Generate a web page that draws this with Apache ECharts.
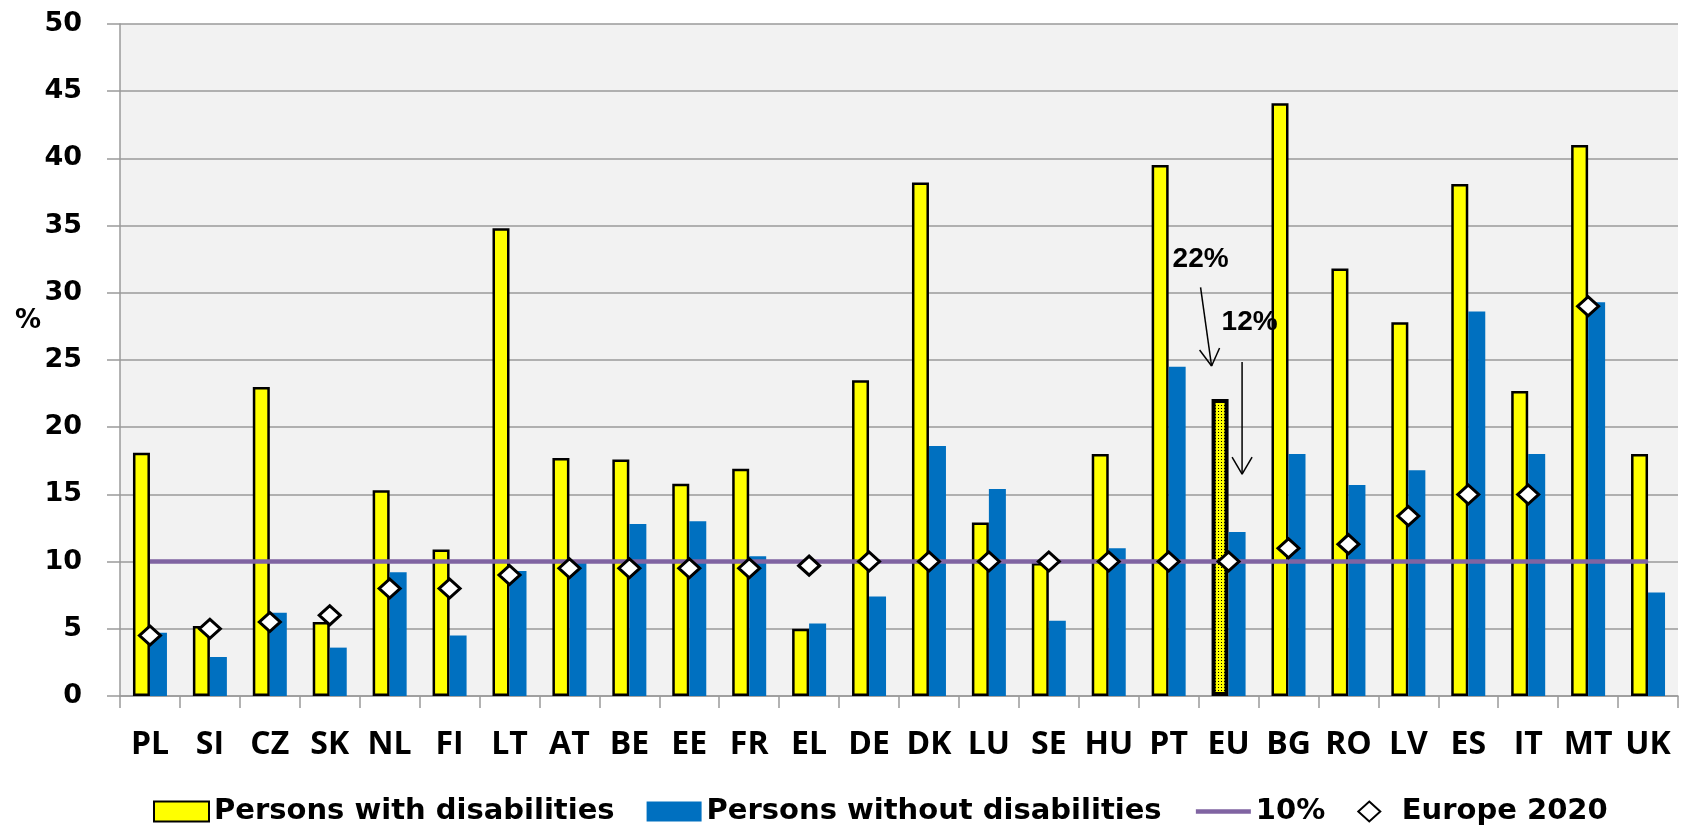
<!DOCTYPE html>
<html>
<head>
<meta charset="utf-8">
<script src="https://cdn.jsdelivr.net/npm/echarts@6/dist/echarts.min.js"></script>
<style>
  html, body { margin: 0; padding: 0; background: #fff; }
  #main { width: 1688px; height: 828px; }
</style>
</head>
<body>
<div id="main"></div>
<script>
// categories and values
const countries = ["PL", "SI", "CZ", "SK", "NL", "FI", "LT", "AT", "BE", "EE", "FR", "EL", "DE",
  "DK", "LU", "SE", "HU", "PT", "EU", "BG", "RO", "LV", "ES", "IT", "MT", "UK"];
const withDisabilities = [18.1, 5.2, 23.0, 5.5, 15.3, 10.9, 34.8, 17.7, 17.6, 15.8, 16.9, 5.0, 23.5,
  38.2, 12.9, 9.9, 18.0, 39.5, 22.1, 44.1, 31.8, 27.8, 38.1, 22.7, 41.0, 18.0];
const withoutDisabilities = [4.7, 2.9, 6.2, 3.6, 9.2, 4.5, 9.3, 9.9, 12.8, 13.0, 10.4, 5.4, 7.4,
  18.6, 15.4, 5.6, 11.0, 24.5, 12.2, 18.0, 15.7, 16.8, 28.6, 18.0, 29.3, 7.7];
const europe2020 = [4.5, 5, 5.5, 6, 8, 8, 9, 9.5, 9.5, 9.5, 9.5, 9.7, 10,
  10, 10, 10, 10, 10, 10, 11, 11.3, 13.4, 15, 15, 29, null];
const benchmark = countries.map(() => 10);
const yTicks = [0, 50, 5]; // min, max, interval

var myChart = echarts.init(document.getElementById("main"));

// dotted fill for the EU bar
const pc = document.createElement("canvas");
pc.width = 3;
pc.height = 3;
const pctx = pc.getContext("2d");
pctx.fillStyle = "#FFFF00";
pctx.fillRect(0, 0, 3, 3);
pctx.fillStyle = "#000";
pctx.fillRect(0, 0, 1, 1);

const gridColor = "#9a9a9a";
const bold = "DejaVu Sans";

const option = {
  backgroundColor: "#fff",
  animation: false,
  grid: {
    left: 120,
    right: 10,
    top: 24,
    bottom: 132,
    show: true,
    backgroundColor: "#f2f2f2",
    borderWidth: 0,
    outerBoundsMode: "none",
  },
  legend: {
    left: 153,
    top: 797,
    padding: 0,
    itemWidth: 55,
    itemHeight: 20,
    itemGap: 32,
    symbolKeepAspect: true,
    textStyle: {
      fontFamily: bold,
      fontWeight: "bold",
      fontSize: 29,
      color: "#000",
    },
    data: [
      { name: "Persons with disabilities", icon: "rect" },
      { name: "Persons without disabilities", icon: "rect" },
      { name: "10%", itemStyle: { opacity: 0 }, lineStyle: { width: 4.5, color: "#8064A2" } },
      {
        name: "Europe 2020",
        icon: "path://M11,0 L22,10 L11,20 L0,10 Z",
        itemStyle: { borderWidth: 2, color: "#fff", borderColor: "#000" },
      },
    ],
  },
  xAxis: {
    type: "category",
    data: countries,
    axisLine: { show: true, lineStyle: { color: gridColor, width: 1.5 } },
    axisTick: { show: true, length: 12, interval: 0, lineStyle: { color: gridColor, width: 1.5 } },
    axisLabel: {
      interval: 0,
      margin: 33,
      color: "#000",
      fontFamily: "Open Sans",
      fontWeight: "bold",
      fontSize: 32,
    },
    splitLine: { show: false },
  },
  yAxis: {
    type: "value",
    min: yTicks[0],
    max: yTicks[1],
    interval: yTicks[2],
    axisLine: { show: true, lineStyle: { color: gridColor, width: 1.5 } },
    axisTick: { show: true, length: 13, lineStyle: { color: gridColor, width: 1.5 } },
    axisLabel: {
      margin: 38,
      color: "#000",
      fontFamily: bold,
      fontWeight: "bold",
      fontSize: 27,
    },
    splitLine: { show: true, lineStyle: { color: gridColor, width: 1.5 } },
  },
  series: [
    {
      name: "Persons with disabilities",
      type: "bar",
      barWidth: 17,
      barGap: "0%",
      itemStyle: { color: "#FFFF00", borderColor: "#000", borderWidth: 2.5 },
      data: withDisabilities.map((v, i) =>
        countries[i] === "EU"
          ? { value: v, itemStyle: { color: { image: pc, repeat: "repeat" }, borderWidth: 4 } }
          : v
      ),
    },
    {
      name: "Persons without disabilities",
      type: "bar",
      barWidth: 17,
      barGap: "0%",
      itemStyle: { color: "#0070C0" },
      data: withoutDisabilities,
    },
    {
      name: "10%",
      type: "line",
      symbol: "none",
      z: 3,
      lineStyle: { color: "#8064A2", width: 4.5 },
      itemStyle: { color: "#8064A2" },
      data: benchmark,
    },
    {
      name: "Europe 2020",
      type: "scatter",
      symbol: "diamond",
      symbolSize: [21, 19],
      z: 4,
      itemStyle: { color: "#fff", borderColor: "#000", borderWidth: 3, opacity: 1 },
      data: europe2020,
    },
  ],
};

myChart.setOption(option);

// annotations around the EU bar, anchored on the axes
const eu = countries.indexOf("EU");
const px = (v) => myChart.convertToPixel({ gridIndex: 0 }, [eu, v]);
const cx = px(0)[0];
const y = (v) => px(v)[1];

const a1 = { x1: cx - 28, y1: y(30.4), x2: cx - 17, y2: y(24.55) };
const a2 = { x1: cx + 13.5, y1: y(24.85), x2: cx + 13.5, y2: y(16.5) };
const txt = (t, x, yy, font) => ({
  type: "text",
  x: x,
  y: yy,
  style: { text: t, fill: "#000", font: font, align: "left", verticalAlign: "middle" },
  z: 10,
});
const seg = (x1, y1, x2, y2) => ({
  type: "line",
  shape: { x1, y1, x2, y2 },
  style: { stroke: "#000", lineWidth: 1.5 },
  z: 10,
});

myChart.setOption({
  graphic: [
    txt("%", 15, 321, "bold 26px DejaVu Sans"),
    txt("22%", cx - 56, y(32.5), "bold 28px Liberation Sans"),
    txt("12%", cx - 7, y(27.8), "bold 28px Liberation Sans"),
    seg(a1.x1, a1.y1, a1.x2, a1.y2),
    seg(a1.x2, a1.y2, a1.x2 - 12, a1.y2 - 16),
    seg(a1.x2, a1.y2, a1.x2 + 8, a1.y2 - 18),
    seg(a2.x1, a2.y1, a2.x2, a2.y2),
    seg(a2.x2, a2.y2, a2.x2 - 10, a2.y2 - 17),
    seg(a2.x2, a2.y2, a2.x2 + 10, a2.y2 - 17),
  ],
});
</script>
</body>
</html>
